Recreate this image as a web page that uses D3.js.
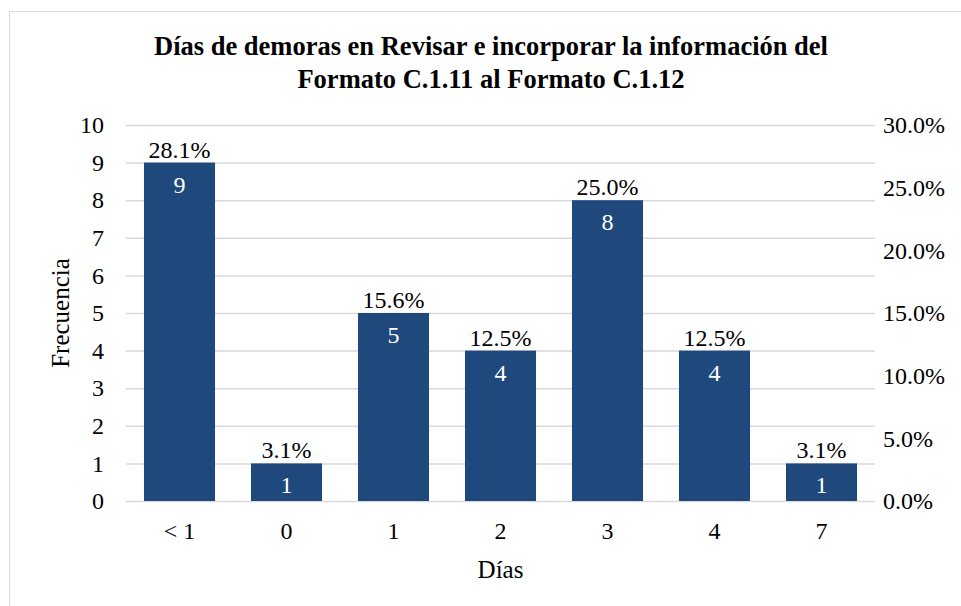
<!DOCTYPE html>
<html>
<head>
<meta charset="utf-8">
<script src="https://cdn.jsdelivr.net/npm/d3@7"></script>
<style>
  body { margin: 0; background: #fff; }
  text { font-family: "Liberation Serif", "Times New Roman", serif; }
</style>
</head>
<body>
<div id="chart"></div>
<script>
const categories = ["< 1", "0", "1", "2", "3", "4", "7"];
const frequencies = [9, 1, 5, 4, 8, 4, 1];
const percentLabels = ["28.1%", "3.1%", "15.6%", "12.5%", "25.0%", "12.5%", "3.1%"];
const leftTicks = [0, 1, 2, 3, 4, 5, 6, 7, 8, 9, 10];
const rightTicks = [0, 0.05, 0.10, 0.15, 0.20, 0.25, 0.30];
const titleLines = ["Días de demoras en Revisar e incorporar la información del", "Formato C.1.11 al Formato C.1.12"];

const width = 961, height = 606;
const margin = { top: 125, right: 86, bottom: 105, left: 126 };
const chartWidth = width - margin.left - margin.right;
const chartHeight = height - margin.top - margin.bottom;
const serif = "'Liberation Serif', 'Times New Roman', serif";

const svg = d3.select("#chart")
    .append("svg")
    .attr("width", width)
    .attr("height", height);

// outer frame
svg.append("rect")
    .attr("x", 9.5).attr("y", 11.5)
    .attr("width", 970).attr("height", 620)
    .attr("fill", "none")
    .attr("stroke", "#d9d9d9");

svg.append("text")
    .attr("x", 491)
    .attr("y", 55)
    .attr("text-anchor", "middle")
    .style("font-family", serif)
    .style("font-size", "26.5px")
    .style("font-weight", "bold")
    .selectAll("tspan")
    .data(titleLines)
    .enter()
    .append("tspan")
    .attr("x", 491)
    .attr("dy", (d, i) => i ? 33 : 0)
    .text(d => d);

const g = svg.append("g")
    .attr("transform", `translate(${margin.left},${margin.top})`);

const x = d3.scaleBand()
    .domain(categories)
    .range([0, chartWidth])
    .paddingInner(0.336)
    .paddingOuter(0.168);

const y = d3.scaleLinear().domain([0, 10]).range([chartHeight, 0]);
const y2 = d3.scaleLinear().domain([0, 0.30]).range([chartHeight, 0]);

g.selectAll(".grid")
    .data(leftTicks)
    .enter()
    .append("line")
    .attr("x1", 0).attr("x2", chartWidth)
    .attr("y1", d => y(d) + 0.5).attr("y2", d => y(d) + 0.5)
    .attr("stroke", "#d9d9d9")
    .attr("stroke-width", 1.5);

function styleTicks(axis) {
    axis.select(".domain").remove();
    axis.attr("font-family", null).attr("font-size", null);
    axis.selectAll("text")
        .style("font-family", serif)
        .style("font-size", "24px")
        .attr("fill", "#000");
}

const leftAxis = g.append("g")
    .call(d3.axisLeft(y).tickValues(leftTicks).tickSize(0).tickPadding(22));
styleTicks(leftAxis);

const rightAxis = g.append("g")
    .attr("transform", `translate(${chartWidth},0)`)
    .call(d3.axisRight(y2).tickValues(rightTicks).tickFormat(d3.format(".1%")).tickSize(0).tickPadding(8));
styleTicks(rightAxis);

const bottomAxis = g.append("g")
    .attr("transform", `translate(0,${chartHeight})`)
    .call(d3.axisBottom(x).tickSize(0).tickPadding(21));
styleTicks(bottomAxis);

g.selectAll(".bar")
    .data(frequencies)
    .enter()
    .append("rect")
    .attr("class", "bar")
    .attr("x", (d, i) => x(categories[i]))
    .attr("y", d => y(d))
    .attr("width", x.bandwidth())
    .attr("height", d => y(0) - y(d))
    .attr("fill", "#1f497d");

g.selectAll(".count-label")
    .data(frequencies)
    .enter()
    .append("text")
    .attr("class", "count-label")
    .attr("x", (d, i) => x(categories[i]) + x.bandwidth() / 2)
    .attr("y", d => y(d) + 30)
    .attr("text-anchor", "middle")
    .attr("fill", "#fff")
    .style("font-family", serif)
    .style("font-size", "24px")
    .text(d => d);

g.selectAll(".pct-label")
    .data(frequencies)
    .enter()
    .append("text")
    .attr("class", "pct-label")
    .attr("x", (d, i) => x(categories[i]) + x.bandwidth() / 2)
    .attr("y", d => y(d) - 5)
    .attr("text-anchor", "middle")
    .attr("fill", "#000")
    .style("font-family", serif)
    .style("font-size", "24px")
    .text((d, i) => percentLabels[i]);

svg.append("text")
    .attr("transform", `translate(69,${margin.top + chartHeight / 2}) rotate(-90)`)
    .attr("text-anchor", "middle")
    .style("font-family", serif)
    .style("font-size", "25px")
    .text("Frecuencia");

svg.append("text")
    .attr("x", margin.left + chartWidth / 2)
    .attr("y", 578)
    .attr("text-anchor", "middle")
    .style("font-family", serif)
    .style("font-size", "25px")
    .text("Días");
</script>
</body>
</html>
